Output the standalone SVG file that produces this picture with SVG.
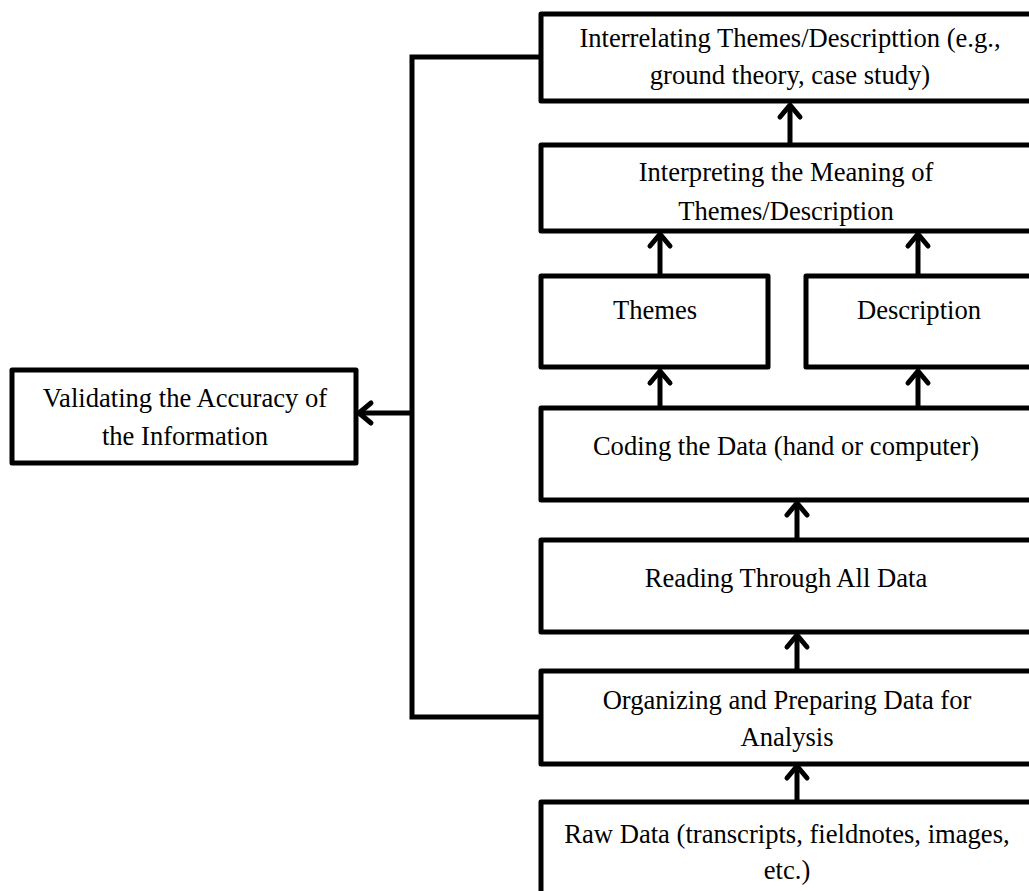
<svg xmlns="http://www.w3.org/2000/svg" width="1029" height="891" viewBox="0 0 1029 891">
<defs>
<style>
.box{fill:#fff;stroke:#000;stroke-width:5;stroke-linejoin:round}
.t{font-family:"Liberation Serif","Times New Roman",serif;font-size:26.6px;fill:#000;text-anchor:middle}
.c{fill:none;stroke:#000;stroke-width:5;stroke-linejoin:miter}
</style>
<marker id="ah" markerUnits="userSpaceOnUse" viewBox="-16 -14 20 28" refX="0" refY="0" markerWidth="20" markerHeight="28" orient="auto" overflow="visible">
<path d="M-12,-10 L0,0 L-12,10" fill="none" stroke="#000" stroke-width="5" stroke-linecap="round" stroke-linejoin="round"/>
</marker>
</defs>
<rect width="1029" height="891" fill="#fff"/>
<g id="connectors">
<path class="c" d="M539,57 H412 V717 H541"/>
<line class="c" x1="412" y1="413" x2="359" y2="413" marker-end="url(#ah)"/>
<line class="c" x1="790" y1="143" x2="790" y2="105" marker-end="url(#ah)"/>
<line class="c" x1="660" y1="275" x2="660" y2="234" marker-end="url(#ah)"/>
<line class="c" x1="918" y1="275" x2="918" y2="234" marker-end="url(#ah)"/>
<line class="c" x1="660" y1="408" x2="660" y2="371" marker-end="url(#ah)"/>
<line class="c" x1="918" y1="408" x2="918" y2="371" marker-end="url(#ah)"/>
<line class="c" x1="797" y1="540" x2="797" y2="503" marker-end="url(#ah)"/>
<line class="c" x1="797" y1="671" x2="797" y2="635" marker-end="url(#ah)"/>
<line class="c" x1="797" y1="802" x2="797" y2="766" marker-end="url(#ah)"/>
</g>
<g id="interrelating">
<rect class="box" x="541" y="14" width="520" height="87"/>
<text class="t" x="790" y="47">Interrelating Themes/Descripttion (e.g.,</text>
<text class="t" x="790" y="84">ground theory, case study)</text>
</g>
<g id="interpreting">
<rect class="box" x="541" y="145" width="520" height="86"/>
<text class="t" x="786" y="181">Interpreting the Meaning of</text>
<text class="t" x="786" y="220">Themes/Description</text>
</g>
<g id="themes">
<rect class="box" x="541" y="276" width="227" height="91"/>
<text class="t" x="655" y="319">Themes</text>
</g>
<g id="description">
<rect class="box" x="806" y="276" width="260" height="91"/>
<text class="t" x="919" y="319">Description</text>
</g>
<g id="coding">
<rect class="box" x="541" y="408" width="520" height="92"/>
<text class="t" x="786" y="455">Coding the Data (hand or computer)</text>
</g>
<g id="reading">
<rect class="box" x="541" y="540" width="520" height="92"/>
<text class="t" x="786" y="587">Reading Through All Data</text>
</g>
<g id="organizing">
<rect class="box" x="541" y="671" width="520" height="93"/>
<text class="t" x="787" y="709">Organizing and Preparing Data for</text>
<text class="t" x="787" y="746">Analysis</text>
</g>
<g id="raw">
<rect class="box" x="541" y="802" width="520" height="120"/>
<text class="t" x="787" y="843">Raw Data (transcripts, fieldnotes, images,</text>
<text class="t" x="787" y="879">etc.)</text>
</g>
<g id="validating">
<rect class="box" x="12" y="370" width="344" height="93"/>
<text class="t" x="185" y="407">Validating the Accuracy of</text>
<text class="t" x="185" y="445">the Information</text>
</g>
</svg>
